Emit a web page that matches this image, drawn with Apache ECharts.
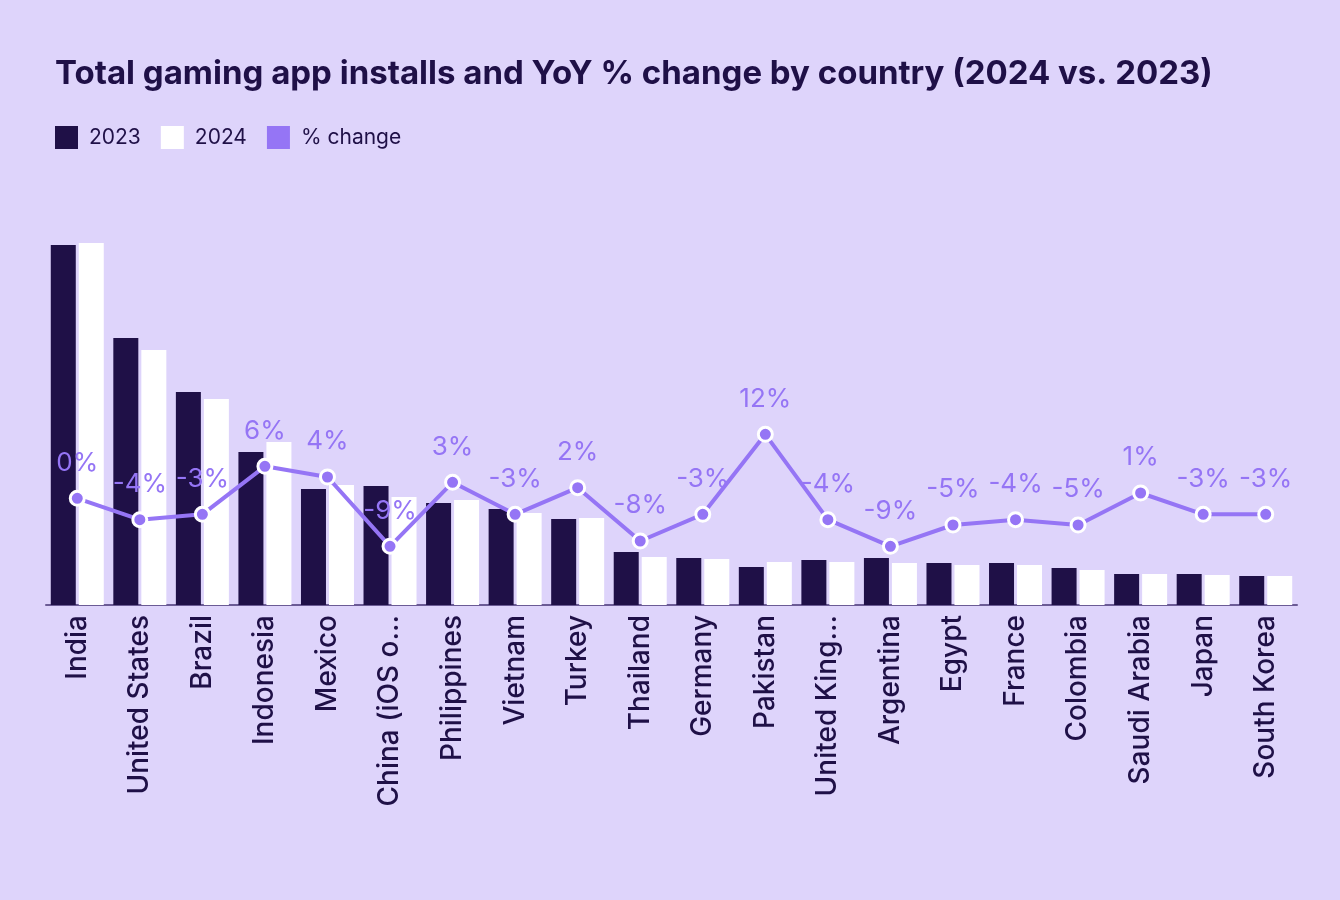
<!DOCTYPE html>
<html>
<head>
<meta charset="utf-8">
<script src="https://cdn.jsdelivr.net/npm/echarts@6/dist/echarts.min.js"></script>
<style>
html,body{margin:0;padding:0;background:#ded4fb;}
#c{width:1340px;height:900px;}
</style>
</head>
<body>
<div id="c"></div>
<script>
const categories = ["India","United States","Brazil","Indonesia","Mexico","China (iOS o...","Philippines","Vietnam","Turkey","Thailand","Germany","Pakistan","United King...","Argentina","Egypt","France","Colombia","Saudi Arabia","Japan","South Korea"];
const installs2023 = [360,267,213,153,116,119,102,96,86,53,47,38,45,47,42,42,37,31,31,29];
const installs2024 = [362,255,206,163,120,108,105,92,87,48,46,43,43,42,40,40,35,31,30,29];
const pctChange = [0,-4,-3,6,4,-9,3,-3,2,-8,-3,12,-4,-9,-5,-4,-5,1,-3,-3];

const navy = '#1f1047';
const purple = '#9575f5';
const FONT = 'Inter';

const chart = echarts.init(document.getElementById('c'), null, {renderer:'canvas'});
chart.setOption({
  backgroundColor: '#ded4fb',
  animation: false,
  textStyle: {fontFamily: FONT},
  title: {
    text: 'Total gaming app installs and YoY % change by country (2024 vs. 2023)',
    left: 50, top: 53,
    textStyle: {fontFamily: FONT, fontSize: 33, fontWeight: 'bold', color: navy}
  },
  legend: {
    left: 50, top: 121,
    itemWidth: 23, itemHeight: 23, itemGap: 20,
    icon: 'rect',
    textStyle: {fontFamily: FONT, fontSize: 21, color: navy, padding: [0, 0, 0, 6]},
    data: [
      {name: '2023', icon: 'rect'},
      {name: '2024', icon: 'rect'},
      {name: '% change', icon: 'rect', itemStyle: {color: purple, borderWidth: 0}}
    ]
  },
  grid: {left: 46, right: 43, top: 205, bottom: 295, containLabel: false},
  xAxis: {
    type: 'category',
    data: categories,
    axisLine: {lineStyle: {color: '#6b5b95', width: 2}},
    axisTick: {show: false},
    axisLabel: {rotate: 90, margin: 10, fontFamily: FONT, fontSize: 28, fontWeight: 500, color: navy, interval: 0}
  },
  yAxis: [
    {type: 'value', min: 0, max: 400, show: false, splitLine: {show: false}},
    {type: 'value', min: -20, max: 55, show: false, splitLine: {show: false}}
  ],
  series: [
    {name: '2023', type: 'bar', data: installs2023, barWidth: 25, barGap: '12%', itemStyle: {color: navy}},
    {name: '2024', type: 'bar', data: installs2024, barWidth: 25, itemStyle: {color: '#ffffff'}},
    {name: '% change', type: 'line', yAxisIndex: 1, data: pctChange, z: 5,
      lineStyle: {color: purple, width: 4},
      symbol: 'circle', symbolSize: 14,
      itemStyle: {color: purple, borderColor: '#ffffff', borderWidth: 3},
      label: {show: true, position: 'top', distance: 14, formatter: p => p.value + '%',
        fontFamily: FONT, fontSize: 26, color: purple}
    }
  ]
});
</script>
</body>
</html>
